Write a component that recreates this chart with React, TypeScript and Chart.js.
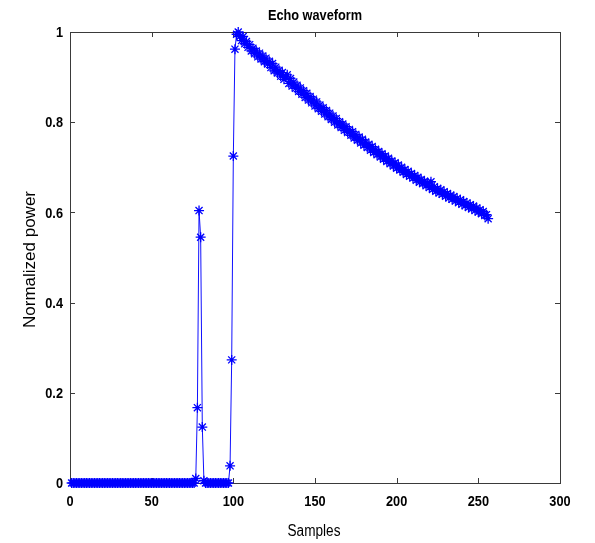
import React, { useEffect, useRef } from "react";
import { Chart, registerables } from "chart.js";

Chart.register(...registerables);

const chartTitle = "Echo waveform";
const xAxisTitle = "Samples";
const yAxisTitle = "Normalized power";

const xTicks = [0, 50, 100, 150, 200, 250, 300];
const xTickLabels = ["0", "50", "100", "150", "200", "250", "300"];
const yTicks = [0, 0.2, 0.4, 0.6, 0.8, 1];
const yTickLabels = ["0", "0.2", "0.4", "0.6", "0.8", "1"];

// samples 1..76
const leadingZeros = [
  0, 0, 0, 0, 0, 0, 0, 0, 0, 0,
  0, 0, 0, 0, 0, 0, 0, 0, 0, 0,
  0, 0, 0, 0, 0, 0, 0, 0, 0, 0,
  0, 0, 0, 0, 0, 0, 0, 0, 0, 0,
  0, 0, 0, 0, 0, 0, 0, 0, 0, 0,
  0, 0, 0, 0, 0, 0, 0, 0, 0, 0,
  0, 0, 0, 0, 0, 0, 0, 0, 0, 0,
  0, 0, 0, 0, 0, 0,
];
// samples 77..82
const precursor = [0.01, 0.167, 0.604, 0.545, 0.124, 0.005];
// samples 83..97
const gapZeros = [0, 0, 0, 0, 0, 0, 0, 0, 0, 0, 0, 0, 0, 0, 0];
// samples 98..102
const rise = [0.038, 0.273, 0.725, 0.962, 0.995];
// samples 103..256
const decay = [
  1.0, 0.99, 0.981, 0.99, 0.974, 0.979, 0.966, 0.972, 0.958, 0.964,
  0.952, 0.958, 0.945, 0.953, 0.94, 0.947, 0.934, 0.942, 0.929, 0.935,
  0.921, 0.93, 0.914, 0.922, 0.909, 0.915, 0.902, 0.91, 0.895, 0.9,
  0.905, 0.886, 0.897, 0.88, 0.889, 0.875, 0.882, 0.868, 0.876, 0.862,
  0.87, 0.855, 0.864, 0.849, 0.857, 0.843, 0.851, 0.836, 0.845, 0.83,
  0.838, 0.824, 0.832, 0.818, 0.826, 0.812, 0.82, 0.806, 0.814, 0.8,
  0.808, 0.794, 0.801, 0.788, 0.796, 0.782, 0.79, 0.777, 0.784, 0.771,
  0.779, 0.765, 0.773, 0.76, 0.767, 0.754, 0.762, 0.749, 0.756, 0.744,
  0.751, 0.738, 0.746, 0.733, 0.74, 0.728, 0.735, 0.723, 0.73, 0.718,
  0.725, 0.713, 0.72, 0.708, 0.714, 0.703, 0.71, 0.698, 0.705, 0.694,
  0.7, 0.689, 0.695, 0.684, 0.691, 0.68, 0.686, 0.676, 0.682, 0.671,
  0.678, 0.667, 0.673, 0.664, 0.669, 0.659, 0.666, 0.655, 0.668, 0.651,
  0.657, 0.647, 0.653, 0.643, 0.65, 0.64, 0.646, 0.636, 0.642, 0.632,
  0.638, 0.629, 0.635, 0.625, 0.631, 0.622, 0.628, 0.618, 0.624, 0.615,
  0.621, 0.611, 0.617, 0.608, 0.614, 0.604, 0.61, 0.601, 0.606, 0.597,
  0.602, 0.593, 0.595, 0.586,
];

const power = [...leadingZeros, ...precursor, ...gapZeros, ...rise, ...decay];
const firstSample = 1;

const FONT = '"Liberation Sans", Arial, sans-serif';
const AXIS_COLOR = "#3a3a3a";

function drawText(
  ctx: CanvasRenderingContext2D,
  text: string,
  x: number,
  y: number,
  font: string,
  align: CanvasTextAlign,
  baseline: CanvasTextBaseline,
  sx: number,
  rot = 0
) {
  ctx.save();
  ctx.translate(x, y);
  if (rot) ctx.rotate(rot);
  ctx.scale(sx, 1);
  ctx.font = font;
  ctx.textAlign = align;
  ctx.textBaseline = baseline;
  ctx.fillStyle = "#000";
  ctx.fillText(text, 0, 0);
  ctx.restore();
}

const matlabAxes = {
  id: "matlabAxes",
  beforeDatasetsDraw(chart: any) {
    const { ctx, chartArea } = chart;
    const { left, right, top, bottom } = chartArea;
    const xs = chart.scales.x;
    const ys = chart.scales.y;
    ctx.save();
    ctx.strokeStyle = AXIS_COLOR;
    ctx.lineWidth = 1;
    ctx.strokeRect(Math.round(left) + 0.5, Math.round(top) + 0.5, Math.round(right - left), Math.round(bottom - top));
    const tl = 5;
    ctx.beginPath();
    xTicks.forEach((t) => {
      const px = Math.round(xs.getPixelForValue(t)) + 0.5;
      ctx.moveTo(px, bottom);
      ctx.lineTo(px, bottom - tl);
      ctx.moveTo(px, top);
      ctx.lineTo(px, top + tl);
    });
    yTicks.forEach((t) => {
      const py = Math.round(ys.getPixelForValue(t)) + 0.5;
      ctx.moveTo(left, py);
      ctx.lineTo(left + tl, py);
      ctx.moveTo(right, py);
      ctx.lineTo(right - tl, py);
    });
    ctx.stroke();
    ctx.restore();
  },
  afterDraw(chart: any) {
    const { ctx, chartArea } = chart;
    const { left, right, top, bottom } = chartArea;
    const xs = chart.scales.x;
    const ys = chart.scales.y;
    const tickFont = `bold 15px ${FONT}`;
    xTicks.forEach((t, i) => {
      drawText(ctx, xTickLabels[i], xs.getPixelForValue(t), bottom + 11, tickFont, "center", "top", 0.85);
    });
    yTicks.forEach((t, i) => {
      drawText(ctx, yTickLabels[i], left - 7, ys.getPixelForValue(t) + 1, tickFont, "right", "middle", 0.85);
    });
    const cx = (left + right) / 2;
    drawText(ctx, chartTitle, cx, 20, `bold 15px ${FONT}`, "center", "alphabetic", 0.85);
    drawText(ctx, xAxisTitle, cx - 1, 536, `16px ${FONT}`, "center", "alphabetic", 0.85);
    drawText(ctx, yAxisTitle, 35, (top + bottom) / 2 + 2, `17px ${FONT}`, "center", "alphabetic", 1, -Math.PI / 2);
  },
};

export default function App() {
  const canvasRef = useRef<HTMLCanvasElement | null>(null);

  useEffect(() => {
    document.body.style.margin = "0";
    const canvas = canvasRef.current;
    if (!canvas) return;
    const points = power.map((v, i) => ({ x: firstSample + i, y: v }));
    const chart = new Chart(canvas, {
      type: "scatter",
      data: {
        datasets: [
          {
            data: points,
            showLine: true,
            borderColor: "#1010ff",
            backgroundColor: "#0000ff",
            borderWidth: 1,
            pointStyle: "star",
            pointRadius: 5,
            pointBorderWidth: 1.3,
            pointBorderColor: "#0000ff",
            clip: false,
          } as any,
        ],
      },
      options: {
        responsive: false,
        animation: false,
        events: [],
        layout: { padding: { left: 70, top: 32, right: 35, bottom: 60 } },
        scales: {
          x: { type: "linear", min: 0, max: 300, display: false },
          y: { type: "linear", min: 0, max: 1, display: false },
        },
        plugins: {
          legend: { display: false },
          title: { display: false },
          tooltip: { enabled: false },
        },
      },
      plugins: [matlabAxes],
    });
    return () => chart.destroy();
  }, []);

  return (
    <div style={{ width: 595, height: 543, background: "#fff" }}>
      <canvas ref={canvasRef} width={595} height={543} style={{ display: "block" }} />
    </div>
  );
}
